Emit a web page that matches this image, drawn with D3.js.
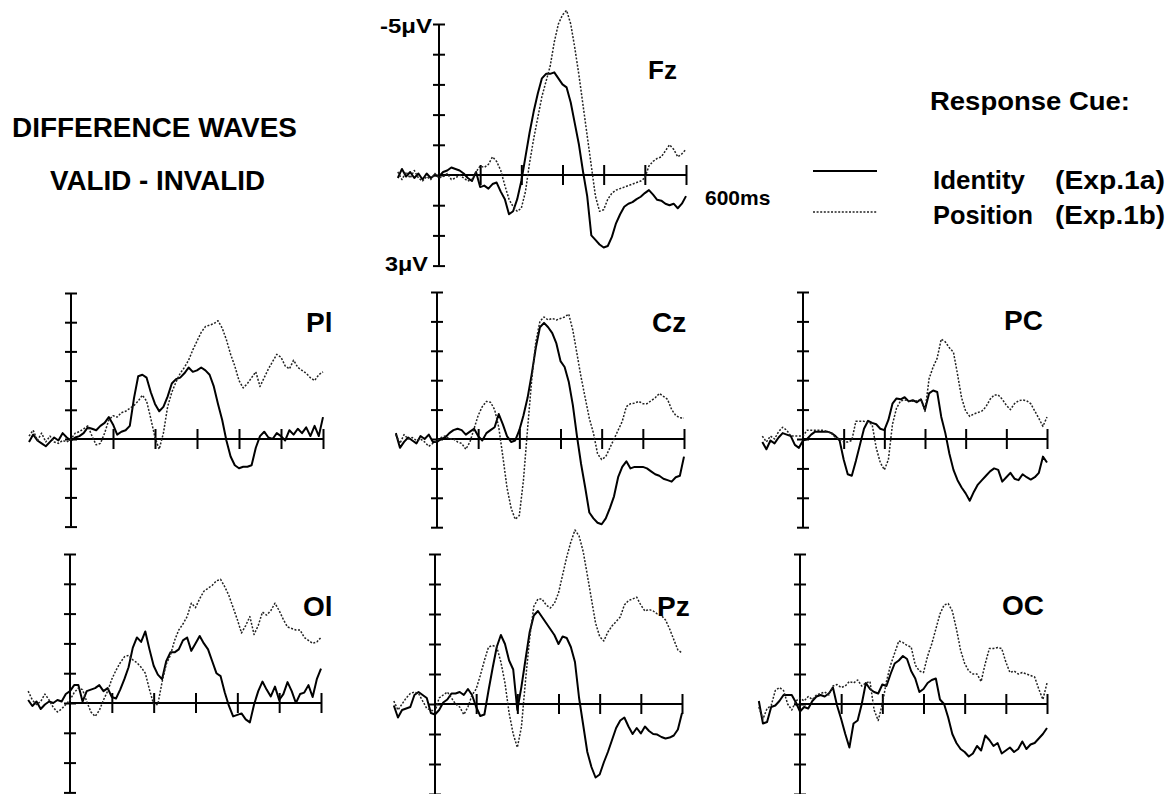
<!DOCTYPE html>
<html>
<head>
<meta charset="utf-8">
<script src="https://cdn.jsdelivr.net/npm/d3@7"></script>
<style>
  body { margin: 0; background: #fff; }
  svg { display: block; font-family: "Liberation Sans", Arial, sans-serif; font-weight: bold; }
</style>
</head>
<body>
<svg id="chart" width="1170" height="794"></svg>
<script>
// sampling grid, ms
var times = d3.range(-100, 601, 10);
var xTicks = [100, 200, 300, 400, 500, 600];
var yTicks = [-5, -4, -3, -2, -1, 0, 1, 2, 3];
var electrodes = ["Fz", "Pl", "Cz", "PC", "Ol", "Pz", "OC"];
var cueNames = ["Identity", "Position"];
var cueExp = ["(Exp.1a)", "(Exp.1b)"];

// difference waves in microvolts (negative is plotted up)
var fzIdentity = [0.1,-0.2,0.05,-0.1,0.1,-0.05,0.15,-0.05,0.1,0.0,0.05,
  -0.1,-0.15,-0.25,-0.2,-0.15,-0.05,0.1,0.2,-0.1,
  0.4,0.35,0.45,0.3,0.25,0.55,0.8,1.3,1.2,0.8,
  0.2,-0.6,-1.4,-2.1,-2.7,-3.2,-3.35,-3.35,-3.4,-3.2,
  -3.0,-2.9,-2.4,-1.7,-1.0,-0.1,0.7,2.0,2.15,2.3,
  2.4,2.35,2.05,1.6,1.3,1.05,0.95,0.9,0.8,0.72,
  0.6,0.5,0.65,0.82,0.85,0.95,1.0,0.95,1.1,0.95,0.7];
var fzPosition = [-0.1,0.15,-0.1,0.1,-0.15,0.1,0.2,0.05,0.15,-0.05,0.1,
  0.05,-0.05,0.15,0.1,0.0,0.1,0.2,0.15,-0.1,
  -0.3,-0.25,-0.35,-0.6,-0.45,-0.15,0.35,0.8,1.05,1.2,
  1.1,0.55,-0.4,-1.2,-1.9,-2.6,-3.1,-3.6,-4.4,-5.0,
  -5.3,-5.45,-5.0,-4.2,-3.3,-2.3,-1.3,-0.3,0.7,1.2,
  1.15,0.8,0.6,0.5,0.45,0.4,0.35,0.3,0.25,0.2,
  0.1,-0.3,-0.45,-0.55,-0.6,-0.8,-1.0,-0.85,-0.6,-0.7,-0.85];

var plIdentity = [0.1,-0.15,0.05,0.15,0.25,0.1,-0.05,0.05,-0.2,-0.05,0.05,
  -0.05,-0.1,-0.2,-0.4,-0.35,-0.3,-0.45,-0.55,-0.75,
  -0.5,-0.15,-0.25,-0.3,-0.45,-1.4,-2.15,-2.2,-2.1,-1.6,
  -1.2,-0.95,-1.1,-1.45,-1.9,-2.05,-2.1,-2.25,-2.45,-2.3,
  -2.35,-2.45,-2.35,-2.2,-1.8,-1.2,-0.65,0.05,0.6,0.9,
  1.0,0.95,0.95,0.9,0.3,-0.1,-0.25,-0.05,0.0,-0.2,
  -0.1,0.05,-0.3,-0.15,-0.35,-0.2,-0.4,-0.1,-0.45,-0.1,-0.75];
var plPosition = [-0.1,-0.3,0.05,-0.2,0.1,-0.1,0.1,0.15,0.05,0.1,0.0,
  -0.2,-0.25,-0.35,-0.45,-0.1,0.2,0.15,-0.2,-0.65,
  -0.8,-0.75,-0.9,-0.95,-1.05,-1.15,-1.3,-1.5,-1.3,-0.7,
  -0.05,0.35,-0.2,-1.1,-1.6,-1.95,-2.25,-2.45,-2.7,-3.05,
  -3.35,-3.65,-3.85,-3.9,-3.95,-4.05,-3.8,-3.4,-2.9,-2.5,
  -2.0,-1.75,-1.9,-2.1,-2.3,-1.8,-2.1,-2.4,-2.65,-2.9,
  -2.8,-2.5,-2.4,-2.7,-2.45,-2.35,-2.25,-2.1,-2.0,-2.2,-2.3];

var czIdentity = [-0.2,0.3,0.1,-0.05,0.05,0.15,-0.1,0.0,-0.15,0.1,0.1,
  0.0,-0.05,-0.2,-0.3,-0.35,-0.3,-0.15,-0.25,-0.35,
  -0.1,0.05,-0.2,-0.3,-0.4,-0.85,-0.5,-0.1,0.1,0.05,
  -0.3,-0.8,-1.4,-2.2,-3.1,-3.8,-3.95,-3.8,-3.6,-3.25,
  -2.65,-2.45,-1.95,-1.15,-0.1,0.85,1.65,2.5,2.7,2.85,
  2.9,2.7,2.35,1.95,1.3,0.95,0.76,1.0,0.95,0.95,
  0.95,1.0,1.1,1.2,1.25,1.35,1.4,1.45,1.3,1.25,0.6];
var czPosition = [-0.15,0.15,-0.15,0.0,-0.05,0.05,0.0,0.1,0.25,0.15,0.05,
  -0.05,-0.1,0.0,0.0,0.1,0.15,0.35,0.1,-0.35,
  -0.8,-1.1,-1.28,-1.25,-1.0,-0.4,0.6,1.65,2.35,2.73,
  2.6,1.4,-0.35,-2.0,-3.3,-4.0,-4.15,-4.05,-4.1,-4.05,
  -4.1,-4.15,-4.25,-3.7,-2.9,-2.1,-1.4,-0.7,-0.2,0.5,
  0.7,0.6,0.3,0.0,-0.3,-0.6,-1.1,-1.2,-1.22,-1.28,
  -1.2,-1.2,-1.3,-1.4,-1.55,-1.45,-1.35,-1.0,-0.8,-0.72,-0.71];

var pcIdentity = [0.1,0.35,0.05,0.15,-0.05,-0.2,-0.15,-0.1,0.2,0.3,0.05,
  0.0,-0.15,-0.25,-0.25,-0.25,-0.25,-0.2,-0.1,0.05,
  0.7,1.2,1.25,0.75,0.2,-0.35,-0.62,-0.55,-0.5,-0.35,
  -0.3,-0.65,-1.2,-1.38,-1.35,-1.42,-1.28,-1.32,-1.25,-1.35,
  -1.0,-1.55,-1.65,-1.6,-0.75,-0.2,0.5,1.05,1.4,1.65,
  1.85,2.1,1.8,1.55,1.4,1.25,1.1,1.0,1.05,1.45,
  1.3,1.15,1.35,1.4,1.2,1.3,1.38,1.3,1.15,0.6,0.8];
var pcPosition = [-0.1,0.1,-0.1,0.0,-0.25,-0.4,-0.3,-0.1,-0.1,-0.1,-0.1,
  -0.3,-0.3,-0.3,-0.3,-0.3,-0.25,-0.2,-0.05,0.0,
  0.1,0.1,0.05,-0.6,-0.6,-0.6,-0.55,-0.5,0.3,0.8,
  1.05,0.7,-0.5,-1.05,-1.3,-1.33,-1.3,-1.28,-1.3,-1.35,
  -0.94,-2.05,-2.45,-2.75,-3.4,-3.3,-3.1,-2.95,-2.2,-1.4,
  -0.95,-0.77,-0.85,-0.9,-0.95,-1.1,-1.35,-1.5,-1.5,-1.35,
  -1.15,-1.0,-1.2,-1.3,-1.33,-1.3,-1.2,-0.95,-0.7,-0.43,-0.75];

var olIdentity = [-0.1,0.1,-0.05,0.2,0.05,-0.05,0.0,-0.1,-0.05,-0.3,-0.4,
  -0.6,-0.6,-0.05,-0.4,-0.45,-0.5,-0.6,-0.4,-0.5,
  -0.2,-0.15,-0.45,-0.8,-1.2,-1.85,-2.2,-2.05,-2.4,-1.8,
  -1.25,-0.95,-0.8,-1.4,-1.7,-1.7,-1.8,-2.1,-2.2,-1.75,
  -2.0,-2.25,-2.0,-1.8,-1.4,-1.0,-0.9,-0.35,0.1,0.45,
  0.4,0.35,0.55,0.65,0.05,-0.4,-0.72,-0.45,-0.22,-0.55,
  -0.1,-0.3,-0.7,-0.4,0.0,-0.3,-0.35,-0.6,-0.2,-0.8,-1.15];
var olPosition = [-0.4,-0.1,0.05,-0.05,-0.3,-0.1,0.15,0.3,0.2,0.05,-0.1,
  -0.35,-0.5,-0.45,-0.05,0.3,0.45,0.25,-0.1,-0.4,
  -0.8,-1.1,-1.35,-1.55,-1.6,-1.45,-1.35,-1.2,-1.0,-0.45,
  0.05,0.05,-0.7,-1.3,-1.6,-2.1,-2.45,-2.65,-2.9,-3.35,
  -3.2,-3.5,-3.75,-3.85,-3.95,-4.1,-4.15,-3.9,-3.6,-3.2,
  -2.8,-2.35,-2.6,-2.9,-2.3,-2.6,-3.05,-2.95,-3.1,-3.35,
  -3.1,-2.8,-2.55,-2.5,-2.45,-2.45,-2.2,-2.1,-2.0,-2.05,-2.2];

var pzIdentity = [0.05,0.45,0.2,0.15,0.1,-0.3,-0.4,-0.3,-0.2,0.3,0.35,
  0.2,-0.05,-0.15,-0.35,-0.35,-0.4,-0.3,-0.5,-0.3,
  0.1,0.4,0.35,-0.45,-1.2,-1.9,-2.3,-2.0,-1.45,-1.15,
  0.2,-0.58,-1.5,-2.4,-2.95,-3.1,-2.9,-2.7,-2.5,-2.3,
  -2.0,-2.25,-2.2,-1.9,-1.4,-0.2,0.7,1.6,2.1,2.45,
  2.35,1.95,1.6,1.2,0.8,0.55,0.45,0.75,1.0,0.8,
  0.98,0.75,0.9,1.0,1.02,1.1,1.15,1.12,1.05,0.85,0.3];
var pzPosition = [-0.1,0.2,0.0,-0.2,-0.35,-0.4,-0.35,-0.1,0.15,0.2,0.25,
  -0.2,-0.3,-0.4,-0.2,0.0,0.1,0.35,0.1,-0.3,
  -0.5,-0.95,-1.45,-1.9,-1.95,-1.9,-1.4,-0.7,0.3,1.0,
  1.45,0.76,-0.8,-2.2,-3.25,-3.5,-3.5,-3.3,-3.2,-3.35,
  -3.7,-4.3,-4.9,-5.4,-5.8,-5.6,-5.08,-4.3,-3.5,-2.7,
  -2.25,-2.1,-2.4,-2.6,-2.75,-2.9,-3.3,-3.45,-3.5,-3.56,
  -3.3,-3.1,-3.15,-3.1,-3.0,-2.95,-2.8,-2.5,-2.15,-1.8,-1.7];

var ocIdentity = [-0.1,0.65,0.6,0.1,0.05,-0.1,-0.3,-0.3,-0.3,-0.05,0.25,
  0.1,0.15,-0.1,-0.25,-0.3,-0.25,-0.35,-0.55,0.05,
  0.5,1.0,1.45,0.65,0.55,0.0,-0.7,-0.5,-0.4,-0.35,
  -0.65,-0.6,-1.0,-1.35,-1.45,-1.6,-1.5,-1.1,-0.85,-0.4,
  -0.5,-0.7,-0.8,-0.85,-0.15,0.0,0.45,1.0,1.3,1.5,
  1.6,1.75,1.65,1.4,1.55,1.05,1.2,1.4,1.3,1.65,
  1.55,1.45,1.6,1.5,1.25,1.5,1.35,1.3,1.15,1.0,0.8];
var ocPosition = [0.1,0.5,0.15,0.05,-0.45,-0.55,-0.45,0.0,0.2,-0.1,-0.2,
  -0.1,-0.25,-0.15,-0.3,-0.35,-0.4,-0.3,-0.6,-0.65,
  -0.55,-0.6,-0.75,-0.7,-0.8,-0.6,-0.7,-0.75,0.2,0.55,
  0.0,-0.75,-1.3,-1.7,-2.1,-2.05,-1.95,-1.9,-1.3,-1.1,
  -1.05,-1.6,-2.0,-2.5,-3.0,-3.3,-3.35,-3.1,-2.5,-1.8,
  -1.35,-1.1,-1.0,-1.0,-0.75,-1.35,-1.85,-1.85,-1.88,-1.85,
  -1.4,-1.05,-1.1,-1.0,-1.05,-1.0,-0.95,-0.9,-0.5,-0.15,-0.7];

var waves = {
  Fz: [fzIdentity, fzPosition],
  Pl: [plIdentity, plPosition],
  Cz: [czIdentity, czPosition],
  PC: [pcIdentity, pcPosition],
  Ol: [olIdentity, olPosition],
  Pz: [pzIdentity, pzPosition],
  OC: [ocIdentity, ocPosition]
};

// where each panel sits: x of 0ms / 600ms, y of -5uV / 0uV, label spot
var panels = {
  Fz: { x0: 439, x1: 686, yTop: 24,  yZero: 175, lx: 648,  ly: 79,  fs: 26 },
  Pl: { x0: 71,  x1: 323, yTop: 293, yZero: 439, lx: 306,  ly: 332, fs: 28 },
  Cz: { x0: 437, x1: 684, yTop: 292, yZero: 439, lx: 652,  ly: 332, fs: 28 },
  PC: { x0: 803, x1: 1047, yTop: 292, yZero: 439, lx: 1004, ly: 330, fs: 28 },
  Ol: { x0: 70,  x1: 321, yTop: 554, yZero: 703, lx: 303,  ly: 616, fs: 28 },
  Pz: { x0: 435, x1: 682, yTop: 554, yZero: 704, lx: 657,  ly: 616, fs: 28 },
  OC: { x0: 800, x1: 1047, yTop: 554, yZero: 704, lx: 1002, ly: 615, fs: 28 }
};

var lineStyles = [
  { stroke: "#000", width: 2, dash: null },
  { stroke: "#222", width: 1.5, dash: "2,1.6" }
];

var svg = d3.select("#chart");

electrodes.forEach(function(name) {
  var p = panels[name];
  var x = d3.scaleLinear().domain([0, 600]).range([p.x0, p.x1]);
  var y = d3.scaleLinear().domain([-5, 0]).range([p.yTop, p.yZero]);
  var g = svg.append("g").attr("class", "panel");

  // vertical axis, ticks cross the line
  g.append("line")
    .attr("x1", x(0)).attr("x2", x(0))
    .attr("y1", y(-5)).attr("y2", y(3))
    .attr("stroke", "#000").attr("stroke-width", 2);
  var ya = g.append("g")
    .attr("transform", "translate(" + (x(0) + 6) + ",0)")
    .call(d3.axisLeft(y).tickValues(yTicks).tickSize(12).tickFormat(""));
  ya.select(".domain").remove();
  ya.selectAll("line").attr("stroke", "#000").attr("stroke-width", 2);

  // horizontal zero line from stimulus onset
  g.append("line")
    .attr("x1", x(0)).attr("x2", x(600))
    .attr("y1", y(0)).attr("y2", y(0))
    .attr("stroke", "#000").attr("stroke-width", 2);
  var xa = g.append("g")
    .attr("transform", "translate(0," + (y(0) - 10) + ")")
    .call(d3.axisBottom(x).tickValues(xTicks).tickSize(20).tickFormat(""));
  xa.select(".domain").remove();
  xa.selectAll("line").attr("stroke", "#000").attr("stroke-width", 2);

  var line = d3.line()
    .x(function(d, i) { return x(times[i]); })
    .y(function(d) { return y(d); });

  waves[name].forEach(function(vals, k) {
    g.append("path")
      .datum(vals)
      .attr("fill", "none")
      .attr("stroke", lineStyles[k].stroke)
      .attr("stroke-width", lineStyles[k].width)
      .attr("stroke-dasharray", lineStyles[k].dash)
      .attr("stroke-linejoin", "round")
      .attr("d", line);
  });

  g.append("text")
    .attr("x", p.lx).attr("y", p.ly)
    .attr("font-size", p.fs)
    .text(name);

  if (name === "Fz") {
    g.append("text").attr("x", x(0) - 7).attr("y", y(-5) + 9)
      .attr("text-anchor", "end").attr("font-size", 21)
      .attr("textLength", 52).attr("lengthAdjust", "spacingAndGlyphs")
      .text("-5\u03bcV");
    g.append("text").attr("x", x(0) - 11).attr("y", y(3) + 5)
      .attr("text-anchor", "end").attr("font-size", 21)
      .attr("textLength", 43).attr("lengthAdjust", "spacingAndGlyphs")
      .text("3\u03bcV");
    g.append("text").attr("x", x(600) + 19).attr("y", y(0) + 30)
      .attr("font-size", 21).text("600ms");
  }
});

// titles on the left
svg.append("text").attr("x", 12).attr("y", 137).attr("font-size", 27)
  .attr("textLength", 285).attr("lengthAdjust", "spacingAndGlyphs")
  .text("DIFFERENCE WAVES");
svg.append("text").attr("x", 50).attr("y", 190).attr("font-size", 27)
  .attr("textLength", 215).attr("lengthAdjust", "spacingAndGlyphs")
  .text("VALID - INVALID");

// legend
svg.append("text").attr("x", 930).attr("y", 110).attr("font-size", 26)
  .attr("textLength", 200).attr("lengthAdjust", "spacingAndGlyphs")
  .text("Response Cue:");

var legendY = [171, 212];
var textY = [189, 224];
var nameW = [92, 100];
cueNames.forEach(function(n, k) {
  svg.append("line")
    .attr("x1", 813).attr("x2", 877)
    .attr("y1", legendY[k]).attr("y2", legendY[k])
    .attr("stroke", lineStyles[k].stroke)
    .attr("stroke-width", lineStyles[k].width)
    .attr("stroke-dasharray", lineStyles[k].dash);
  svg.append("text").attr("x", 933).attr("y", textY[k])
    .attr("font-size", 25)
    .attr("textLength", nameW[k]).attr("lengthAdjust", "spacingAndGlyphs")
    .text(n);
  svg.append("text").attr("x", 1055).attr("y", textY[k])
    .attr("font-size", 25)
    .attr("textLength", 110).attr("lengthAdjust", "spacingAndGlyphs")
    .text(cueExp[k]);
});
</script>
</body>
</html>
